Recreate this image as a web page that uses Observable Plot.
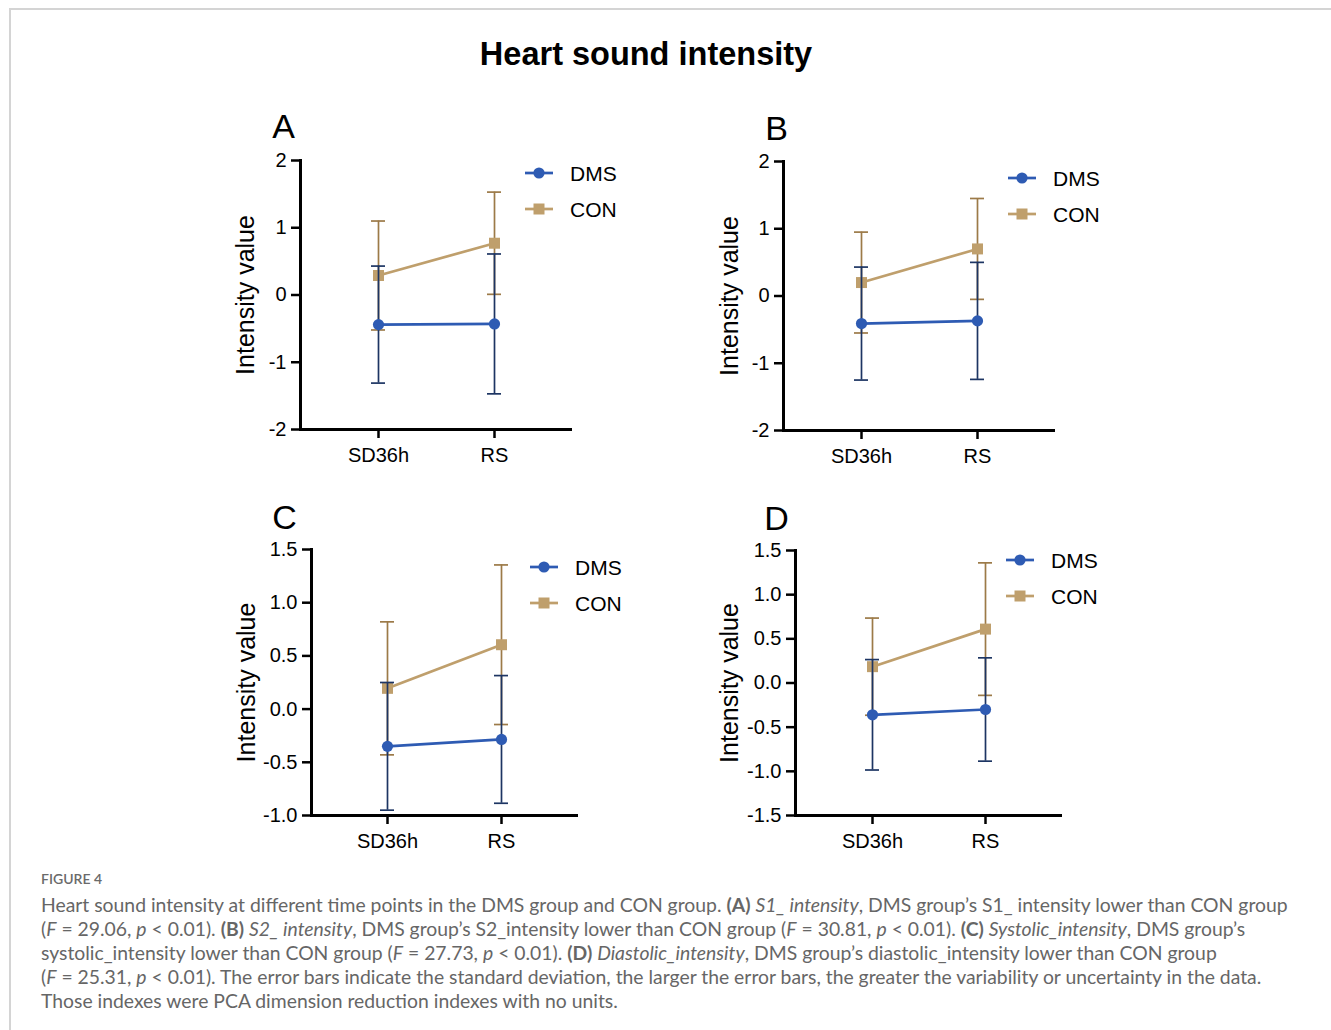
<!DOCTYPE html>
<html>
<head>
<meta charset="utf-8">
<script src="https://cdn.jsdelivr.net/npm/d3@7"></script>
<script src="https://cdn.jsdelivr.net/npm/@observablehq/plot@0.6"></script>
<style>
  html, body { margin: 0; padding: 0; background: #fff; }
  #page { position: relative; width: 1331px; height: 1030px; overflow: hidden; background: #fff; }
  #card { position: absolute; left: 9px; top: 8px; width: 1330px; height: 1030px;
          border-top: 2px solid #d4d4d4; border-left: 2px solid #d4d4d4; box-sizing: border-box; }
  .abs { position: absolute; }
  #title { left: 396px; width: 500px; top: 38px; text-align: center; font: bold 32.5px/32px "Liberation Sans", Arial, sans-serif; color: #000; }
  .legend { position: absolute; font: 21px/21px "Liberation Sans", Arial, sans-serif; color: #000; }
  #fig { left: 41px; top: 871px; font: 600 14px/16px Lato, "Open Sans", sans-serif; color: #6a6a6a; }
  #caption { left: 41px; top: 893px; font-family: Lato, "Open Sans", sans-serif; font-size: 17px; line-height: 24px; color: #666; }
  #caption div { white-space: nowrap; }
  #caption b { font-weight: bold; color: #666; }
</style>
</head>
<body>
<div id="page">
  <div id="card"></div>
  <div id="title" class="abs">Heart sound intensity</div>
  <div id="fig" class="abs">FIGURE 4</div>
  <div id="caption" class="abs">
    <div id="cap1">Heart sound intensity at different time points in the DMS group and CON group. <b>(A)</b> <i>S1_ intensity</i>, DMS group’s S1_ intensity lower than CON group</div>
    <div>(<i>F</i> = 29.06, <i>p</i> &lt; 0.01). <b>(B)</b> <i>S2_ intensity</i>, DMS group’s S2_intensity lower than CON group (<i>F</i> = 30.81, <i>p</i> &lt; 0.01). <b>(C)</b> <i>Systolic_intensity</i>, DMS group’s</div>
    <div>systolic_intensity lower than CON group (<i>F</i> = 27.73, <i>p</i> &lt; 0.01). <b>(D)</b> <i>Diastolic_intensity</i>, DMS group’s diastolic_intensity lower than CON group</div>
    <div>(<i>F</i> = 25.31, <i>p</i> &lt; 0.01). The error bars indicate the standard deviation, the larger the error bars, the greater the variability or uncertainty in the data.</div>
    <div>Those indexes were PCA dimension reduction indexes with no units.</div>
  </div>
</div>
<script>
// ---------------- DATA ----------------
const times = ["SD36h", "RS"];
const groups = ["DMS", "CON"];
const panelIds = ["A", "B", "C", "D"];
const yLabel = "Intensity value";

// Panel A: S1 intensity
const dmsMeanA = [-0.44, -0.43];
const dmsSdA   = [0.87, 1.04];
const conMeanA = [0.29, 0.77];
const conSdA   = [0.81, 0.76];
// Panel B: S2 intensity
const dmsMeanB = [-0.41, -0.37];
const dmsSdB   = [0.84, 0.87];
const conMeanB = [0.20, 0.70];
const conSdB   = [0.75, 0.75];
// Panel C: Systolic intensity
const dmsMeanC = [-0.35, -0.285];
const dmsSdC   = [0.60, 0.60];
const conMeanC = [0.195, 0.605];
const conSdC   = [0.625, 0.75];
// Panel D: Diastolic intensity
const dmsMeanD = [-0.36, -0.30];
const dmsSdD   = [0.625, 0.585];
const conMeanD = [0.185, 0.61];
const conSdD   = [0.55, 0.75];

const yDomainAB = [-2, 2];
const yDomainC  = [-1, 1.5];
const yDomainD  = [-1.5, 1.5];
const yTicksAB = [-2, -1, 0, 1, 2];
const yTicksC  = [-1, -0.5, 0, 0.5, 1, 1.5];
const yTicksD  = [-1.5, -1, -0.5, 0, 0.5, 1, 1.5];

// ---------------- STYLE / LAYOUT ----------------
const colors = {
  DMS: {line: "#2e5bb3", bar: "#1d3563"},
  CON: {line: "#bf9f6c", bar: "#9c7a48"}
};
const layout = {
  A: {frame: [300, 160, 572, 429], ticks: [378, 494], labelDx: -55, letter: [-17, -23], legend: [525, 173]},
  B: {frame: [783, 161, 1055, 430], ticks: [861, 977], labelDx: -54, letter: [-7, -22], legend: [1008, 178]},
  C: {frame: [311, 549, 578, 815], ticks: [387, 501], labelDx: -65, letter: [-27, -21], legend: [530, 567]},
  D: {frame: [795, 550, 1062, 815], ticks: [872, 985], labelDx: -66, letter: [-19, -21], legend: [1006, 560]}
};

const panelData = {
  A: {dm: dmsMeanA, ds: dmsSdA, cm: conMeanA, cs: conSdA, domain: yDomainAB, ticks: yTicksAB, fmt: d => String(d)},
  B: {dm: dmsMeanB, ds: dmsSdB, cm: conMeanB, cs: conSdB, domain: yDomainAB, ticks: yTicksAB, fmt: d => String(d)},
  C: {dm: dmsMeanC, ds: dmsSdC, cm: conMeanC, cs: conSdC, domain: yDomainC, ticks: yTicksC, fmt: d => d.toFixed(1)},
  D: {dm: dmsMeanD, ds: dmsSdD, cm: conMeanD, cs: conSdD, domain: yDomainD, ticks: yTicksD, fmt: d => d.toFixed(1)}
};

function buildRows(p) {
  const rows = [];
  times.forEach((t, i) => {
    rows.push({group: "DMS", time: t, mean: p.dm[i], lo: p.dm[i] - p.ds[i], hi: p.dm[i] + p.ds[i]});
    rows.push({group: "CON", time: t, mean: p.cm[i], lo: p.cm[i] - p.cs[i], hi: p.cm[i] + p.cs[i]});
  });
  return rows;
}

const page = document.getElementById("page");
const ML = 110, MT = 70, MR = 40, MB = 60, CAP = 14;

panelIds.forEach(id => {
  const p = panelData[id];
  const L = layout[id];
  const [fl, ft, fr, fb] = L.frame;
  const svgLeft = fl - ML, svgTop = ft - MT;
  const width = ML + (fr - fl) + MR;
  const height = MT + (fb - ft) + MB;
  const [t1, t2] = L.ticks;
  const rows = buildRows(p);
  const dms = rows.filter(d => d.group === "DMS");
  const con = rows.filter(d => d.group === "CON");

  const groupMarks = (data, g) => [
    Plot.ruleX(data, {x: "time", y1: "lo", y2: "hi", stroke: colors[g].bar, strokeWidth: 1.7}),
    Plot.tickY(data, {x: "time", y: "hi", stroke: colors[g].bar, strokeWidth: 1.7}),
    Plot.tickY(data, {x: "time", y: "lo", stroke: colors[g].bar, strokeWidth: 1.7}),
    Plot.line(data, {x: "time", y: "mean", stroke: colors[g].line, strokeWidth: 2.7}),
    Plot.dot(data, g === "DMS"
      ? {x: "time", y: "mean", r: 5.6, fill: colors[g].line, symbol: "circle"}
      : {x: "time", y: "mean", r: 6.2, fill: colors[g].line, symbol: "square"})
  ];

  const chart = Plot.plot({
    width, height,
    marginLeft: ML, marginTop: MT, marginRight: MR, marginBottom: MB,
    style: {fontFamily: '"Liberation Sans", Arial, sans-serif', fontSize: "20px", color: "#000", background: "none", overflow: "visible"},
    x: {type: "band", domain: times, range: [t1 - svgLeft - CAP / 2, t2 - svgLeft + CAP / 2],
        paddingInner: 1 - CAP / (t2 - t1), paddingOuter: 0, align: 0.5},
    y: {domain: p.domain},
    marks: [
      Plot.axisY({ticks: p.ticks, tickFormat: p.fmt, tickSize: 9, tickPadding: 5, strokeWidth: 2.5, fontSize: 20, label: null}),
      Plot.axisX({tickSize: 9, tickPadding: 9, strokeWidth: 2.5, fontSize: 20, label: null}),
      Plot.ruleY([p.domain[0]], {stroke: "#000", strokeWidth: 3}),
      Plot.frame({anchor: "left", stroke: "#000", strokeWidth: 3}),
      ...groupMarks(con, "CON"),
      ...groupMarks(dms, "DMS"),
      Plot.text([yLabel], {frameAnchor: "left", rotate: -90, dx: L.labelDx, fontSize: 25, textAnchor: "middle", lineAnchor: "middle"}),
      Plot.text([id], {frameAnchor: "top-left", dx: L.letter[0], dy: L.letter[1], fontSize: 34, textAnchor: "middle", lineAnchor: "bottom"})
    ]
  });
  chart.style.position = "absolute";
  chart.style.left = svgLeft + "px";
  chart.style.top = svgTop + "px";
  page.appendChild(chart);

  // legend
  const [lx, ly] = L.legend;
  groups.forEach((g, i) => {
    const y = ly + i * 36;
    const div = document.createElement("div");
    div.className = "legend";
    div.style.left = lx + "px";
    div.style.top = (y - 12) + "px";
    const marker = g === "DMS"
      ? `<circle cx="14" cy="12" r="5.6" fill="${colors[g].line}"/>`
      : `<rect x="8.5" y="6.5" width="11" height="11" fill="${colors[g].line}"/>`;
    div.innerHTML = `<svg width="30" height="24" style="position:absolute;left:0;top:0;overflow:visible">
      <line x1="0" x2="28" y1="12" y2="12" stroke="${colors[g].line}" stroke-width="2.7"/>${marker}</svg>
      <span style="position:absolute;left:45px;top:2px;white-space:nowrap">${g}</span>`;
    page.appendChild(div);
  });
});

// fit caption width to reference line length
const cap1 = document.getElementById("cap1");
const span = document.createElement("span");
span.innerHTML = cap1.innerHTML;
cap1.innerHTML = "";
cap1.appendChild(span);
const w = span.getBoundingClientRect().width;
if (w > 0) document.getElementById("caption").style.fontSize = (17 * 1247 / w).toFixed(2) + "px";
</script>
</body>
</html>
